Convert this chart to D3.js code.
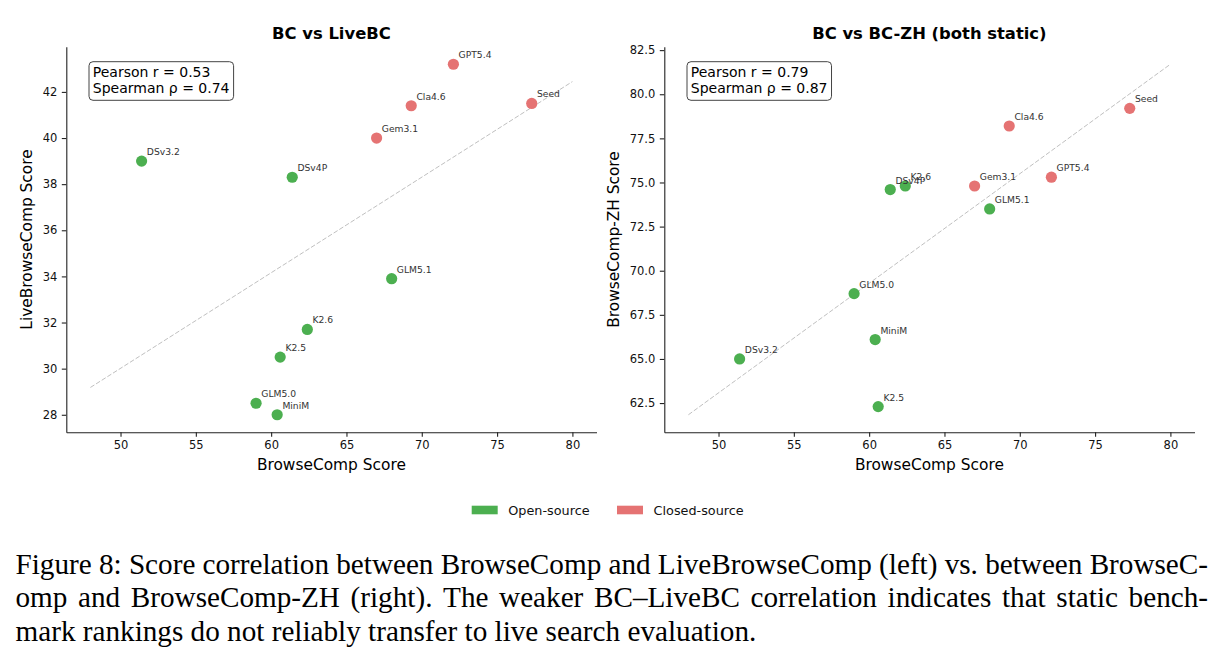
<!DOCTYPE html>
<html>
<head>
<meta charset="utf-8">
<script src="https://cdn.jsdelivr.net/npm/d3@7/dist/d3.min.js"></script>
<style>
  body { margin: 0; background: #fff; }
  svg { display: block; }
</style>
</head>
<body>
<script>
// Scores (same model order in every array)
const models = ['DSv3.2', 'DSv4P', 'GLM5.0', 'GLM5.1', 'K2.5', 'K2.6', 'MiniM', 'Gem3.1', 'Cla4.6', 'GPT5.4', 'Seed'];
const sources = ['open', 'open', 'open', 'open', 'open', 'open', 'open', 'closed', 'closed', 'closed', 'closed'];
const bcScores = [51.4, 61.4, 59.0, 68.0, 60.6, 62.4, 60.4, 67.0, 69.3, 72.1, 77.3];
const liveBcScores = [39.0, 38.3, 28.5, 33.9, 30.5, 31.7, 28.0, 40.0, 41.4, 43.2, 41.5];
const bcZhScores = [65.0, 74.6, 68.7, 73.5, 62.3, 74.8, 66.1, 74.8, 78.2, 75.3, 79.2];

// range the fit line is drawn over
const fitRange = [48, 80];

// tick labels
const xTicks = [50, 55, 60, 65, 70, 75, 80];
const liveTicks = [28, 30, 32, 34, 36, 38, 40, 42];
const zhTicks = [62.5, 65.0, 67.5, 70.0, 72.5, 75.0, 77.5, 80.0, 82.5];

const statsLive = ['Pearson r = 0.53', 'Spearman \u03c1 = 0.74'];
const statsZh = ['Pearson r = 0.79', 'Spearman \u03c1 = 0.87'];

const legendKeys = ['open', 'closed'];
const legendLabels = ['Open-source', 'Closed-source'];

const captionLines = [
  'Figure 8: Score correlation between BrowseComp and LiveBrowseComp (left) vs. between BrowseC-',
  'omp and BrowseComp-ZH (right). The weaker BC\u2013LiveBC correlation indicates that static bench-',
  'mark rankings do not reliably transfer to live search evaluation.'
];

const color = { open: '#4caf50', closed: '#e57373' };
const font = '"DejaVu Sans", sans-serif';

const W = 1223, H = 661;
const svg = d3.select('body').append('svg')
  .attr('width', W)
  .attr('height', H);

// least squares line over fitRange
function fitLine(xs, ys) {
  const mx = d3.mean(xs), my = d3.mean(ys);
  const sxy = d3.sum(xs, (x, i) => (x - mx) * (ys[i] - my));
  const sxx = d3.sum(xs, x => (x - mx) * (x - mx));
  const b = sxy / sxx;
  return fitRange.map(x => [x, my + b * (x - mx)]);
}

// matplotlib style 5% margins
function padded(lo, hi) {
  const m = (hi - lo) * 0.05;
  return [lo - m, hi + m];
}

const panels = [
  { left: 66.3, title: 'BC vs LiveBC', ylabel: 'LiveBrowseComp Score', ys: liveBcScores,
    yTicks: liveTicks, yFormat: d3.format('d'), stats: statsLive, ylabelX: 31.5 },
  { left: 664.3, title: 'BC vs BC-ZH (both static)', ylabel: 'BrowseComp-ZH Score', ys: bcZhScores,
    yTicks: zhTicks, yFormat: d3.format('.1f'), stats: statsZh, ylabelX: 618.5 }
];
const plotW = 530.2, plotTop = 46.7, plotBottom = 432.3;

panels.forEach(function (p) {
  const fit = fitLine(bcScores, p.ys);
  const xDom = padded(Math.min(d3.min(bcScores), fitRange[0]), Math.max(d3.max(bcScores), fitRange[1]));
  const yDom = padded(Math.min(d3.min(p.ys), fit[0][1], fit[1][1]), Math.max(d3.max(p.ys), fit[0][1], fit[1][1]));

  const x = d3.scaleLinear().domain(xDom).range([p.left, p.left + plotW]);
  const y = d3.scaleLinear().domain(yDom).range([plotBottom, plotTop]);

  const g = svg.append('g').attr('font-family', font);

  // axes
  const xAxis = g.append('g')
    .attr('transform', 'translate(0,' + plotBottom + ')')
    .call(d3.axisBottom(x).tickValues(xTicks).tickSize(4.5).tickSizeOuter(0).tickPadding(4.5));
  const yAxis = g.append('g')
    .attr('transform', 'translate(' + p.left + ',0)')
    .call(d3.axisLeft(y).tickValues(p.yTicks).tickFormat(p.yFormat).tickSize(4.5).tickSizeOuter(0).tickPadding(4.5));
  [xAxis, yAxis].forEach(function (a) {
    a.attr('font-family', font).attr('font-size', 11.5);
    a.selectAll('path, line').attr('stroke', '#222').attr('stroke-width', 1.1);
    a.selectAll('text').attr('fill', '#111');
  });

  // fit line
  g.append('path')
    .datum(fit)
    .attr('d', d3.line().x(d => x(d[0])).y(d => y(d[1])))
    .attr('fill', 'none')
    .attr('stroke', '#c0c0c0')
    .attr('stroke-width', 1)
    .attr('stroke-dasharray', '4.7,2');

  // points and labels
  const pts = models.map((m, i) => ({ name: m, src: sources[i], bx: bcScores[i], by: p.ys[i] }));
  g.selectAll('.dot')
    .data(pts)
    .enter().append('circle')
    .attr('class', 'dot')
    .attr('cx', d => x(d.bx))
    .attr('cy', d => y(d.by))
    .attr('r', 5.6)
    .attr('fill', d => color[d.src]);
  g.selectAll('.lbl')
    .data(pts)
    .enter().append('text')
    .attr('class', 'lbl')
    .attr('x', d => x(d.bx) + 5.2)
    .attr('y', d => y(d.by) - 6)
    .attr('font-size', 9.2)
    .attr('fill', '#333')
    .text(d => d.name);

  // title and axis labels
  g.append('text')
    .attr('x', p.left + plotW / 2)
    .attr('y', 39.3)
    .attr('text-anchor', 'middle')
    .attr('font-size', 16.4)
    .attr('font-weight', 'bold')
    .text(p.title);
  g.append('text')
    .attr('x', p.left + plotW / 2)
    .attr('y', 470)
    .attr('text-anchor', 'middle')
    .attr('font-size', 15.4)
    .text('BrowseComp Score');
  g.append('text')
    .attr('transform', 'translate(' + p.ylabelX + ',' + ((plotTop + plotBottom) / 2) + ') rotate(-90)')
    .attr('text-anchor', 'middle')
    .attr('font-size', 15.4)
    .text(p.ylabel);

  // stats box
  const tx = p.left + plotW * 0.05;
  const box = g.append('rect');
  const st = g.append('text').attr('font-size', 14).attr('fill', '#000');
  st.selectAll('tspan')
    .data(p.stats)
    .enter().append('tspan')
    .attr('x', tx)
    .attr('y', (d, i) => 76.7 + i * 16)
    .text(d => d);
  const bb = st.node().getBBox();
  box.attr('x', tx - 3.8)
    .attr('y', 61.7)
    .attr('width', bb.width + 7.8)
    .attr('height', 38.6)
    .attr('rx', 4)
    .attr('fill', '#fff')
    .attr('stroke', '#444')
    .attr('stroke-width', 1);
});

// legend
const legend = svg.append('g').attr('font-family', font).attr('font-size', 12.8);
let lx = 471.7;
legendKeys.forEach(function (k, i) {
  legend.append('rect')
    .attr('x', lx).attr('y', 505.7)
    .attr('width', 26).attr('height', 8.6)
    .attr('fill', color[k]);
  const t = legend.append('text')
    .attr('x', lx + 36.6)
    .attr('y', 514.6)
    .attr('fill', '#111')
    .text(legendLabels[i]);
  lx += 36.6 + t.node().getComputedTextLength() + 27.4;
});

// caption, justified like the paper
const cap = svg.append('g')
  .attr('font-family', '"Liberation Serif", "Times New Roman", serif')
  .attr('font-size', 29.2)
  .attr('fill', '#000');
const capLeft = 15.5, capRight = 1208;
captionLines.forEach(function (line, li) {
  const yy = 574 + li * 33.4;
  if (li === captionLines.length - 1) {
    cap.append('text').attr('x', capLeft).attr('y', yy).text(line);
    return;
  }
  const words = line.split(' ');
  const nodes = words.map(w => cap.append('text').attr('y', yy).text(w));
  const widths = nodes.map(n => n.node().getComputedTextLength());
  const gap = Math.max(4, (capRight - capLeft - d3.sum(widths)) / (words.length - 1));
  let cx = capLeft;
  nodes.forEach(function (n, i) {
    n.attr('x', cx);
    cx += widths[i] + gap;
  });
});
</script>
</body>
</html>
